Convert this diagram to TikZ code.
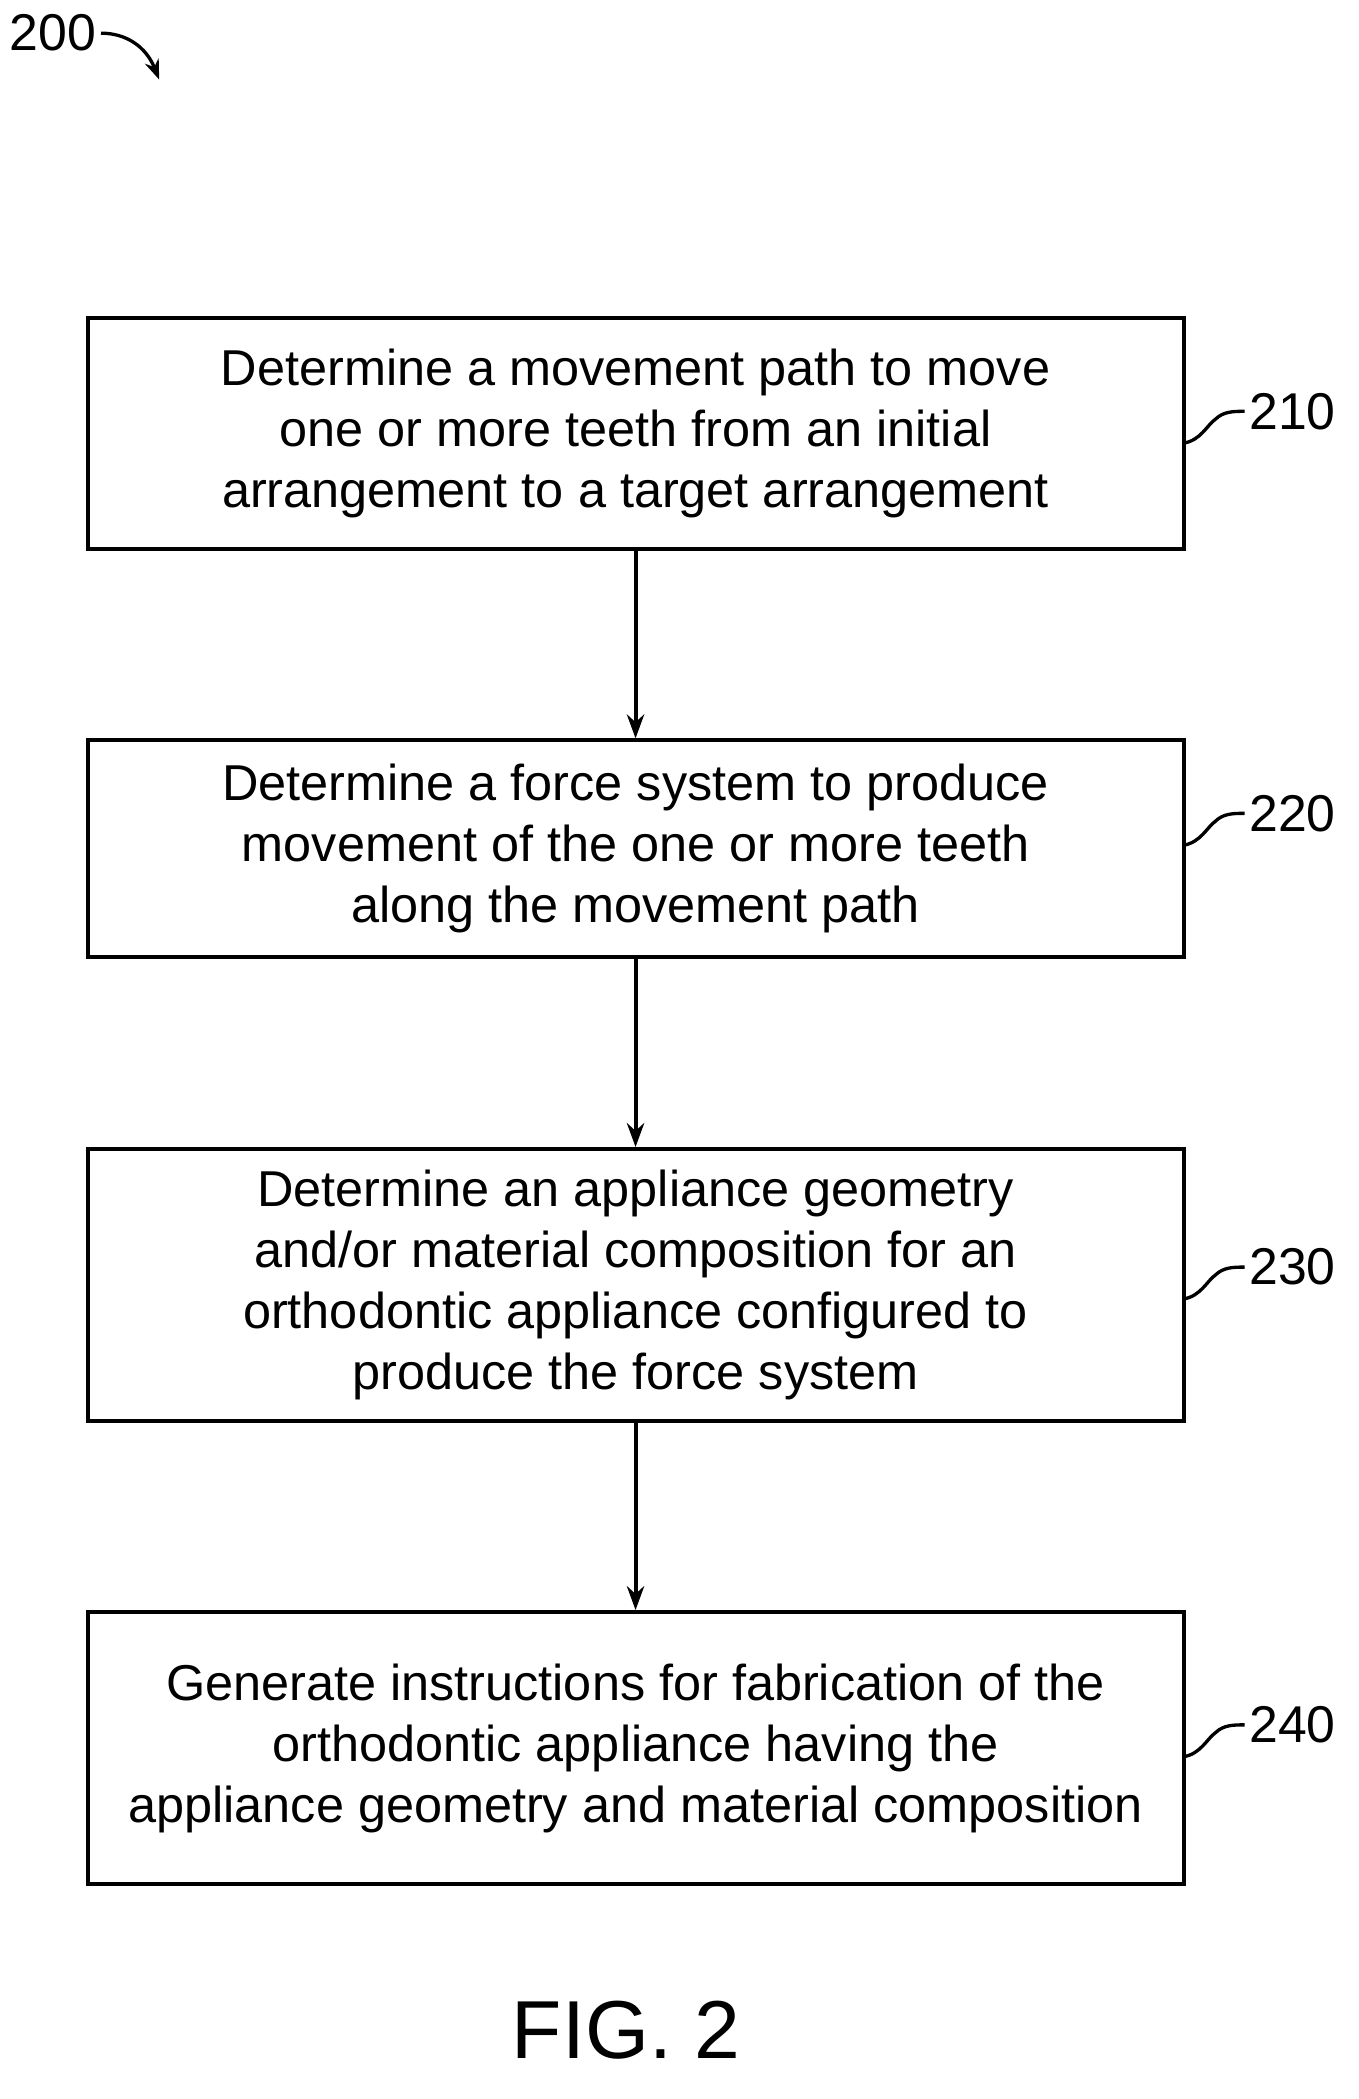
\documentclass[tikz,border=0pt]{standalone}
\usepackage{fontspec}
\setmainfont{Liberation Sans}
\usetikzlibrary{positioning,arrows.meta}
\begin{document}
\begin{tikzpicture}[x=1pt,y=1pt,
    stepbox/.style={draw, line width=3pt, minimum width=826pt, align=center,
                 font=\fontsize{38}{46}\selectfont, inner sep=0pt},
    flow/.style={-{Stealth[length=18pt,width=13pt]}, line width=3pt},
    ref/.style={font=\fontsize{39}{44}\selectfont}
  ]
  \useasboundingbox (0,0) rectangle (1024,-1582);

  \node[stepbox, minimum height=174pt] (s210) at (479,-327) {Determine a movement path to move\\one or more teeth from an initial\\arrangement to a target arrangement};
  \node[stepbox, minimum height=163pt] (s220) at (479,-639.5) {Determine a force system to produce\\movement of the one or more teeth\\along the movement path};
  \node[stepbox, minimum height=205pt] (s230) at (479,-968.5) {Determine an appliance geometry\\and/or material composition for an\\orthodontic appliance configured to\\produce the force system};
  \node[stepbox, minimum height=205pt] (s240) at (479,-1317.5) {Generate instructions for fabrication of the\\orthodontic appliance having the\\appliance geometry and material composition};

  \draw[flow] (s210) -- (s220);
  \draw[flow] (s220) -- (s230);
  \draw[flow] (s230) -- (s240);

  % reference numerals
  \node[ref, anchor=west] (n210) at (938,-310) {210};
  \node[ref, anchor=west] (n220) at (938,-613) {220};
  \node[ref, anchor=west] (n230) at (938,-955) {230};
  \node[ref, anchor=west] (n240) at (938,-1300) {240};
  \foreach \n/\y in {210/-310,220/-613,230/-955,240/-1300}
    \draw[line width=2.5pt] (892,\y-24) .. controls (905,\y-22) and (910,\y-10) .. (916,\y-6)
      .. controls (922,\y) and (930,\y) .. (n\n.west);

  \node[ref, anchor=west] (n200) at (4,-25) {200};
  \draw[line width=2.5pt, -{Stealth[length=15pt,width=11pt]}] (n200.east) .. controls (95,-25) and (110,-35) .. (120,-60);

  \node[font=\fontsize{62}{66}\selectfont] (fig) at (472,-1530) {FIG. 2};
\end{tikzpicture}
\end{document}
